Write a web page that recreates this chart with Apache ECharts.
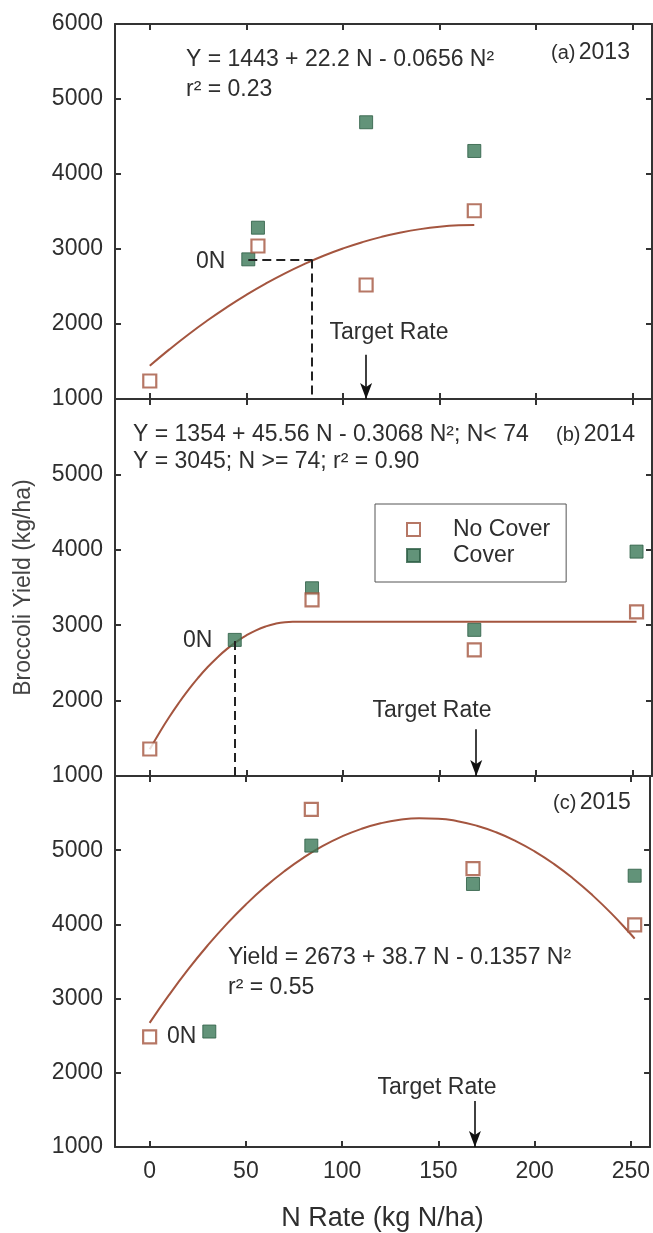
<!DOCTYPE html>
<html><head><meta charset="utf-8">
<script src="https://cdn.jsdelivr.net/npm/echarts@6/dist/echarts.min.js"></script>
<style>html,body{margin:0;padding:0;background:#fff}#c{width:653px;height:1233px}</style>
</head><body><div id="c"></div>
<script>
// ---------- data ----------
const xTicks = [0, 50, 100, 150, 200, 250];
const yTicks = [1000, 2000, 3000, 4000, 5000, 6000];

const noCover2013 = [[0, 1240], [56, 3040], [112, 2520], [168, 3510]];
const cover2013   = [[51, 2862], [56, 3284], [112, 4690], [168, 4307]];
const fit2013 = [[0,1443],[10,1658],[20,1861],[30,2050],[40,2226],[50,2389],[60,2539],[70,2676],[80,2799],[90,2910],[100,3007],[110,3091],[120,3162],[130,3220],[140,3265],[150,3297],[160,3316],[168,3321]];

const noCover2014 = [[0, 1358], [84, 3335], [168, 2673], [252, 3176]];
const cover2014   = [[44, 2805], [84, 3490], [168, 2938], [252, 3976]];
const fit2014 = [[0,1354],[5,1574],[10,1779],[15,1968],[20,2142],[25,2301],[30,2445],[35,2573],[40,2686],[45,2783],[50,2865],[55,2932],[60,2983],[65,3019],[70,3040],[74,3045],[252,3045]];

const noCover2015 = [[0, 2485], [84, 5549], [168, 4753], [252, 3993]];
const cover2015   = [[31, 2556], [84, 5062], [168, 4545], [252, 4656]];
const fit2015 = [[0,2673],[10,3046],[20,3393],[30,3712],[40,4004],[50,4269],[60,4507],[70,4717],[80,4900],[90,5057],[100,5186],[110,5288],[120,5363],[130,5411],[140,5431],[150,5425],[160,5391],[170,5330],[180,5242],[190,5127],[200,4985],[210,4816],[220,4619],[230,4395],[240,4145],[250,3867],[252,3808]];

const targetRate = [112, 169, 169];          // N rate of the "Target Rate" arrows
const guide2013 = [[51, 2860], [84, 2860], [84, 1000]];   // dashed 0N-equivalent guides
const guide2014 = [[44, 2790], [44, 1000]];

// ---------- style ----------
const FONT = 'Liberation Sans, Arial, sans-serif';
const TXT = '#2e2e2e';
const AX = '#333';
const BROWN = '#a4553f';
const GREEN = '#3b7857';
const GREEN_B = '#2b5b42';
const SQUARE = 'path://M0,0L10,0L10,10L0,10Z';

const grids = [
  {left: 115, right: 1, top: 24, height: 375},
  {left: 115, right: 1, top: 399, height: 377},
  {left: 115, right: 1, top: 776, height: 377}
];

const xAxes = [], yAxes = [];
grids.forEach((g, i) => {
  const base = {
    gridIndex: i, type: 'value', min: -18, max: 260,
    axisLine: {show: true, onZero: false, lineStyle: {color: AX, width: 2}},
    axisTick: {show: true, inside: true, length: 6, customValues: xTicks, lineStyle: {color: AX, width: 2}},
    splitLine: {show: false}
  };
  xAxes.push(Object.assign({}, base, {
    position: 'bottom',
    axisLabel: {show: i === 2, customValues: xTicks, fontSize: 23, color: TXT, fontFamily: FONT, margin: 13},
    name: i === 2 ? 'N Rate (kg N/ha)' : '', nameLocation: 'middle', nameGap: 58,
    nameTextStyle: {fontSize: 27, color: TXT, fontFamily: FONT}
  }));
  xAxes.push(Object.assign({}, base, {position: 'top', axisLabel: {show: false}}));
  const ybase = {
    gridIndex: i, type: 'value', min: 1000, max: 6000, interval: 1000,
    axisLine: {show: true, onZero: false, lineStyle: {color: AX, width: 2}},
    axisTick: {show: true, inside: true, length: 6, lineStyle: {color: AX, width: 2}},
    splitLine: {show: false}
  };
  yAxes.push(Object.assign({}, ybase, {
    position: 'left',
    axisLabel: {fontSize: 23, color: TXT, fontFamily: FONT, margin: 12,
      formatter: v => (i > 0 && v === 6000) ? '' : String(v)},
    name: i === 1 ? 'Broccoli Yield (kg/ha)' : '', nameLocation: 'middle', nameGap: 80,
    nameTextStyle: {fontSize: 23, color: '#444', fontFamily: FONT}
  }));
  yAxes.push(Object.assign({}, ybase, {position: 'right', axisLabel: {show: false}}));
});

const sets = [
  {nc: noCover2013, cv: cover2013, fit: fit2013, guide: guide2013, target: targetRate[0]},
  {nc: noCover2014, cv: cover2014, fit: fit2014, guide: guide2014, target: targetRate[1]},
  {nc: noCover2015, cv: cover2015, fit: fit2015, guide: null, target: targetRate[2]}
];

const series = [];
sets.forEach((s, i) => {
  const xi = i * 2, yi = i * 2;
  const guideLines = [];
  if (s.guide) {
    for (let k = 0; k < s.guide.length - 1; k++) {
      guideLines.push([{coord: s.guide[k]}, {coord: s.guide[k + 1]}]);
    }
  }
  series.push({
    type: 'line', name: 'fit' + i, xAxisIndex: xi, yAxisIndex: yi,
    data: s.fit, showSymbol: false, symbol: 'none', smooth: true,
    lineStyle: {color: BROWN, width: 2}, z: 2, silent: true,
    markLine: {
      silent: true, symbol: ['none', 'none'], label: {show: false},
      lineStyle: {color: '#222', width: 2, type: [9, 5]},
      data: guideLines
    }
  });
  series.push({
    type: 'line', name: 'target' + i, xAxisIndex: xi, yAxisIndex: yi, data: [],
    markLine: {
      silent: true, symbol: ['none', 'arrow'], symbolSize: [9, 16], label: {show: false},
      lineStyle: {color: '#111', width: 1.6, type: 'solid'},
      data: [[{coord: [s.target, i === 0 ? 1590 : 1620]}, {coord: [s.target, 1000]}]]
    }
  });
  series.push({
    type: 'scatter', name: 'No Cover', xAxisIndex: xi, yAxisIndex: yi, data: s.nc,
    symbol: SQUARE, symbolSize: 13,
    itemStyle: {color: '#fff', borderColor: BROWN, borderWidth: 2.2}, z: 4
  });
  series.push({
    type: 'scatter', name: 'Cover', xAxisIndex: xi, yAxisIndex: yi, data: s.cv,
    symbol: SQUARE, symbolSize: 13,
    itemStyle: {color: GREEN, borderColor: GREEN_B, borderWidth: 1}, z: 3
  });
});

function txt(x, y, text, opt) {
  return {
    type: 'text', x: x, y: y, z: 100,
    style: Object.assign({text: text, fill: TXT, fontSize: 23, fontFamily: FONT, align: 'left', verticalAlign: 'middle'}, (opt && opt.style) || {})
  };
}
const labelRich = {p: {fontSize: 20, fontFamily: FONT, fill: TXT}, y: {fontSize: 23, fontFamily: FONT, fill: TXT}};

const graphic = [
  txt(186, 60, 'Y = 1443 + 22.2 N - 0.0656 N²'),
  txt(186, 90, 'r² = 0.23'),
  {type: 'text', x: 551, y: 53, z: 100, style: {text: '{p|(a)} {y|2013}', rich: labelRich, verticalAlign: 'middle', fill: TXT}},
  txt(196, 262, '0N'),
  txt(389, 333, 'Target Rate', {style: {align: 'center'}}),

  txt(133, 435, 'Y = 1354 + 45.56 N - 0.3068 N²; N< 74'),
  txt(133, 462, 'Y = 3045; N >= 74; r² = 0.90'),
  {type: 'text', x: 556, y: 435, z: 100, style: {text: '{p|(b)} {y|2014}', rich: labelRich, verticalAlign: 'middle', fill: TXT}},
  txt(183, 641, '0N'),
  txt(432, 711, 'Target Rate', {style: {align: 'center'}}),

  txt(228, 958, 'Yield = 2673 + 38.7 N - 0.1357 N²'),
  txt(228, 988, 'r² = 0.55'),
  {type: 'text', x: 553, y: 803, z: 100, style: {text: '{p|(c)} {y|2015}', rich: labelRich, verticalAlign: 'middle', fill: TXT}},
  txt(167, 1037, '0N'),
  txt(437, 1088, 'Target Rate', {style: {align: 'center'}})
];

const chart = echarts.init(document.getElementById('c'), null, {renderer: 'canvas'});
chart.setOption({
  animation: false,
  backgroundColor: '#fff',
  textStyle: {fontFamily: FONT},
  grid: grids,
  xAxis: xAxes,
  yAxis: yAxes,
  legend: {
    data: [{name: 'No Cover', icon: SQUARE}, {name: 'Cover', icon: SQUARE}],
    orient: 'vertical', left: 375, top: 504,
    padding: [14, 16, 15, 31], itemGap: 3, itemWidth: 13, itemHeight: 13,
    borderColor: '#555', borderWidth: 1, selectedMode: false,
    formatter: '{t|{name}}',
    textStyle: {fontSize: 23, color: TXT, fontFamily: FONT,
      rich: {t: {fontSize: 23, color: TXT, fontFamily: FONT, padding: [0, 0, 0, 28]}}}
  },
  series: series,
  graphic: graphic
});
</script>
</body></html>
